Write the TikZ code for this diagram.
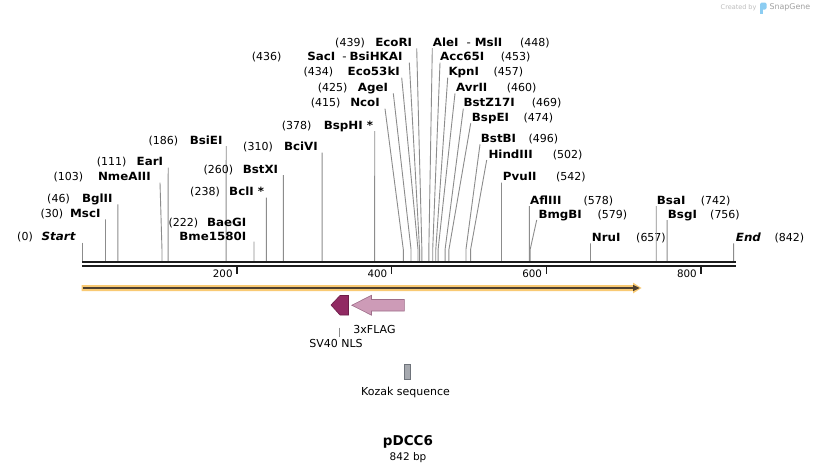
\documentclass[tikz,border=0pt]{standalone}
\usepackage{fontspec}
\setmainfont{DejaVu Sans}
\newfontfamily\sitenamefont[FakeStretch=1.05]{DejaVu Sans}
\definecolor{cutgray}{HTML}{8C8C8C}
\definecolor{axisblack}{HTML}{1C1C1C}
\definecolor{featorange}{HTML}{F9CA74}
\definecolor{featbrown}{HTML}{4E4030}
\definecolor{svfill}{HTML}{912A63}
\definecolor{svdraw}{HTML}{6E1E4A}
\definecolor{flagfill}{HTML}{CD9BB7}
\definecolor{flagdraw}{HTML}{9E6E8A}
\definecolor{kozfill}{HTML}{A6A9AF}
\definecolor{kozdraw}{HTML}{6E737A}
\definecolor{wmgray}{HTML}{BDBDBD}
\definecolor{wmblue}{HTML}{8CCDF2}
\tikzset{
  nm/.style={font=\sitenamefont\fontsize{11.3}{13}\selectfont\bfseries, inner sep=0pt, text=black},
  nb/.style={font=\fontsize{11}{13}\selectfont, inner sep=0pt, text=black},
  cut/.style={draw=cutgray, line width=0.9pt},
  ticklbl/.style={font=\fontsize{10.3}{12}\selectfont, inner sep=0pt, text=black},
  featlbl/.style={font=\fontsize{11}{13}\selectfont, inner sep=0pt, text=black},
}
% id, name, number, number edge x, name edge x, centre y, top x, bp
\newcommand{\lsite}[8]{%
  \node[nm, anchor=base east] (n#1) at (#5, #6+4) {#2};
  \node[nb, anchor=base east] (p#1) at (#4, #6+4) {(#3)};
  \coordinate (t#1) at (#7, #6+6);
  \coordinate (k#1) at ({82.3+0.7735*#8}, 249.5);
  \coordinate (a#1) at ({82.3+0.7735*#8}, 260.8);
  \draw[cut] (t#1) -- (k#1) -- (a#1);
}
\newcommand{\rsite}[8]{%
  \node[nm, anchor=base west] (n#1) at (#5, #6+4) {#2};
  \node[nb, anchor=base west] (p#1) at (#4, #6+4) {(#3)};
  \coordinate (t#1) at (#7, #6+6);
  \coordinate (k#1) at ({82.3+0.7735*#8}, 249.5);
  \coordinate (a#1) at ({82.3+0.7735*#8}, 260.8);
  \draw[cut] (t#1) -- (k#1) -- (a#1);
}
\begin{document}
\begin{tikzpicture}[x=1pt, y=-1pt]
\useasboundingbox (0,0) rectangle (818,474);
\fill[white] (0,0) rectangle (818,474);

% watermark
\node[inner sep=0pt, anchor=west, text=wmgray, font=\fontsize{6.5}{8}\selectfont] (wm1) at (720.5,7.5) {Created by};
\fill[wmblue, rounded corners=1.5pt] (760,2.5) rectangle (766.5,9.5);
\fill[wmblue] (760,8) rectangle (762.8,13.5);
\node[inner sep=0pt, anchor=west, text=wmgray!85!black, font=\fontsize{7.9}{9}\selectfont] (wm2) at (769.3,7.5) {SnapGene};

% axis
\draw[axisblack, line width=2.7pt] (82,262) -- (735.5,262);
\draw[axisblack, line width=2.4pt] (82,266.2) -- (735.5,266.2);
\foreach \v/\px in {200/237.0, 400/391.7, 600/546.4, 800/701.1} {
  \draw[axisblack, line width=1.4pt] (\px,267) -- (\px,274.3);
  \node[ticklbl, anchor=east] at (\px-4.2,274) {\v};
}

% cut sites, left side
\lsite{st}{\textit{Start}}{0}{33}{76}{236.7}{82.3}{0}
\lsite{ms}{MscI}{30}{63.3}{100.7}{213.3}{105.5}{30}
\lsite{bg}{BglII}{46}{70}{112.7}{198.3}{117.9}{46}
\lsite{nme}{NmeAIII}{103}{83.3}{151}{176.7}{160}{103}
\lsite{ea}{EarI}{111}{126.7}{163.3}{161.7}{168.2}{111}
\lsite{bsi}{BsiEI}{186}{178.3}{222.7}{140}{226.2}{186}
\lsite{bx}{BstXI}{260}{233.3}{278.3}{169}{283.4}{260}
\lsite{bc}{BclI *}{238}{220}{264.3}{191.7}{266.4}{238}
\lsite{bv}{BciVI}{310}{273}{318}{146.7}{322.1}{310}
\lsite{bh}{BspHI *}{378}{311.7}{373.3}{125}{374.7}{378}
\lsite{nc}{NcoI}{415}{340.7}{380}{102.7}{385}{415}
\lsite{ag}{AgeI}{425}{347.7}{388.3}{87.3}{393.3}{425}
\lsite{eco}{Eco53kI}{434}{333.3}{400}{71.7}{401.7}{434}
\lsite{sa}{SacI\hspace{7pt}\mdseries-\hspace{3pt}\bfseries BsiHKAI}{436}{281.7}{402.7}{56.7}{409.3}{436}
\lsite{er}{EcoRI}{439}{365}{412.3}{42.3}{416.7}{439}

% BaeGI / Bme1580I
\node[nm, anchor=base east] (nbae) at (246.5, 226.3) {BaeGI};
\node[nm, anchor=base east] (nbme) at (246.5, 240.7) {Bme1580I};
\node[nb, anchor=base east] (pbae) at (198.3, 226.3) {(222)};
\coordinate (tbae) at (254, 241.7);
\coordinate (abae) at ({82.3+0.7735*222}, 260.8);
\draw[cut] (tbae) -- (abae);

% cut sites, right side
\rsite{al}{AleI\hspace{8pt}\mdseries-\hspace{4pt}\bfseries MslI}{448}{520}{432.7}{42.3}{432.3}{448}
\rsite{ac}{Acc65I}{453}{500.7}{440}{56.7}{440}{453}
\rsite{kp}{KpnI}{457}{493.3}{448.3}{71.7}{447.7}{457}
\rsite{av}{AvrII}{460}{506.7}{456}{87.3}{455}{460}
\rsite{bz}{BstZ17I}{469}{531.7}{463.3}{102.7}{463.3}{469}
\rsite{be}{BspEI}{474}{523.3}{471.7}{117.3}{470.7}{474}
\rsite{bb}{BstBI}{496}{528.3}{480.7}{138.3}{480}{496}
\rsite{hd}{HindIII}{502}{552.7}{488.3}{154}{486.7}{502}
\rsite{pv}{PvuII}{542}{556}{502.7}{176.7}{501.5}{542}
\rsite{af}{AflIII}{578}{583.3}{530}{200}{529.4}{578}
\rsite{bm}{BmgBI}{579}{597.3}{538.3}{214}{536.7}{579}
\rsite{nr}{NruI}{657}{636}{591.7}{237.3}{590.5}{657}
\rsite{bsa}{BsaI}{742}{700.7}{656.7}{200}{656.2}{742}
\rsite{bsg}{BsgI}{756}{710}{667.7}{214}{667.1}{756}
\rsite{en}{\textit{End}}{842}{774.3}{735.7}{237.3}{733.6}{842}

% feature arrow along the sequence
\fill[featorange] (81.7,285) -- (633,285) -- (633,282.6) -- (641.5,288) -- (633,293.4) -- (633,291) -- (81.7,291) -- cycle;
\draw[featbrown, line width=2pt] (82.5,288) -- (634,288);
\fill[featbrown] (633,284.8) -- (639.6,288) -- (633,291.2) -- cycle;

% SV40 NLS
\filldraw[fill=svfill, draw=svdraw, line width=0.6pt]
  (331,305) -- (340,295.5) -- (348.5,295.5) -- (348.5,315) -- (340,315) -- cycle;
% 3xFLAG
\filldraw[fill=flagfill, draw=flagdraw, line width=0.6pt]
  (351.8,305.2) -- (371.5,295.3) -- (371.5,299.5) -- (404.3,299.5) -- (404.3,311)
  -- (371.5,311) -- (371.5,315.2) -- cycle;
\node[featlbl] (lflag) at (374.5,329) {3xFLAG};
\node[featlbl] (lsv) at (336,343.5) {SV40 NLS};
\coordinate (svtop) at (339.3,327.5);
\coordinate (svbot) at (339.3,337);
\draw[cut, line width=0.8pt] (svtop) -- (svbot);

% Kozak sequence
\filldraw[fill=kozfill, draw=kozdraw, line width=0.6pt] (404,364) rectangle (410,379.5);
\node[featlbl] (lkoz) at (405.5,392.5) {Kozak sequence};

% title
\node[inner sep=0pt, font=\fontsize{13.5}{16}\selectfont\bfseries] (title) at (408,442) {pDCC6};
\node[inner sep=0pt, font=\fontsize{10.5}{12}\selectfont] (len) at (408,457.5) {842 bp};
\end{tikzpicture}
\end{document}
